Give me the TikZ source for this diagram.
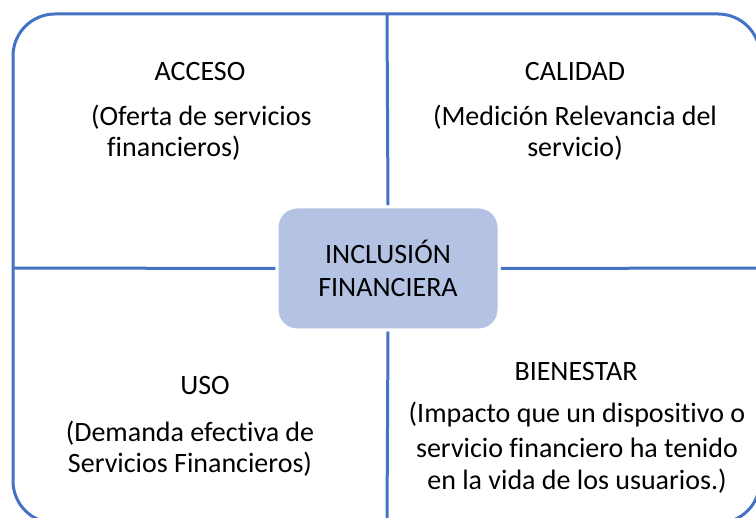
\documentclass[tikz,border=0pt]{standalone}
\usepackage{fontspec}
\setmainfont{Carlito}[Ligatures=NoCommon]
\definecolor{frameblue}{HTML}{4472C4}
\definecolor{boxfill}{HTML}{B4C2E3}
\begin{document}
\begin{tikzpicture}[x=1pt,y=-1pt,
  frame/.style={draw=frameblue,line width=3pt},
  hub/.style={fill=boxfill,draw=white,line width=3pt,rounded corners=20pt,minimum width=222pt,minimum height=123pt,inner sep=0pt,align=center,font=\fontsize{28}{33}\selectfont},
  txt/.style={inner sep=0pt,anchor=center,font=\fontsize{28}{33}\selectfont}]
\useasboundingbox (0,0) rectangle (756,518);
\clip (0,0) rectangle (756,518);
\coordinate (tl) at (13,14);
\coordinate (br) at (760,523);
\coordinate (ttop) at (387,14);
\coordinate (tbot) at (387,523);
\coordinate (tleft) at (13,268);
\coordinate (tright) at (760,268);
\draw[frame,rounded corners=42pt] (tl) rectangle (br);
\node[hub] (hub) at (388,268.5) {INCLUSIÓN\\FINANCIERA};
\draw[frame] (ttop) -- (hub.north);
\draw[frame] (hub.south) -- (tbot);
\draw[frame] (tleft) -- (hub.west);
\draw[frame] (hub.east) -- (tright);
\node[hub] at (388,268.5) {INCLUSIÓN\\FINANCIERA};
% ACCESO
\node[txt] (acc) at (200,72) {ACCESO};
\node[txt,anchor=west] (acc1) at (91,117) {(Oferta de servicios};
\node[txt,anchor=west] (acc2) at (107,148) {financieros)};
% CALIDAD
\node[txt] (cal) at (575,72) {CALIDAD};
\node[txt] (cal1) at (575,117) {(Medición Relevancia del};
\node[txt] (cal2) at (575,148) {servicio)};
% USO
\node[txt] (uso) at (205,386) {USO};
\node[txt] (uso1) at (190,433) {(Demanda efectiva de};
\node[txt] (uso2) at (190,464) {Servicios Financieros)};
% BIENESTAR
\node[txt] (bie) at (576,372) {BIENESTAR};
\node[txt] (bie1) at (577,415) {(Impacto que un dispositivo o};
\node[txt] (bie2) at (577,448) {servicio financiero ha tenido};
\node[txt] (bie3) at (577,481) {en la vida de los usuarios.)};
\end{tikzpicture}
\end{document}
